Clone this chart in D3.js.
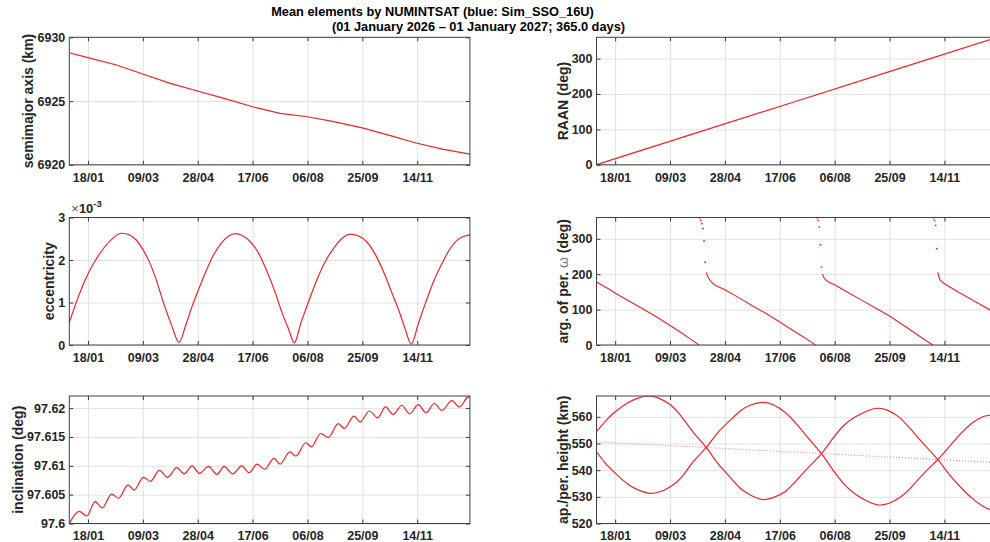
<!DOCTYPE html>
<html>
<head>
<meta charset="utf-8">
<script src="https://cdn.jsdelivr.net/npm/d3@7"></script>
<style>
    body { margin: 0; background: #fff; }
    svg { display: block; }
    text { font-family: "Liberation Sans", Arial, Helvetica, sans-serif; }
</style>
</head>
<body>
<div class="my_div"></div>
<script>
// ---- data (day = days since 01 Jan 2026) ----

// x tick positions (every 50 days from 18/01)
var xTickDays = [17, 67, 117, 167, 217, 267, 317];

// semimajor axis (km)
var smaDays = [0, 16, 43, 67, 92, 116, 141, 167, 192, 217, 241, 267, 291, 315, 341, 365];
var smaVals = [6928.79, 6928.43, 6927.83, 6927.12, 6926.39, 6925.81, 6925.21, 6924.55,
               6924.03, 6923.77, 6923.38, 6922.90, 6922.33, 6921.73, 6921.21, 6920.84];

// RAAN (deg)
var raanDays = [0, 91, 182, 274, 365];
var raanVals = [0.3, 90, 179.5, 270.2, 359.8];

// eccentricity (x 1e-3)
var eccDays = [0, 8, 16, 24, 32, 40, 47, 54, 61, 67, 73, 79, 86, 93, 100, 106, 112, 118, 124,
               131, 138, 145, 151, 158, 165, 172, 180, 187, 194, 200, 205, 211, 218, 226, 234,
               241, 248, 256, 263, 271, 279, 287, 294, 301, 306, 311.5, 318, 325, 332, 340, 347,
               354, 361, 365];
var eccVals = [0.53, 1.12, 1.62, 2.0, 2.3, 2.52, 2.63, 2.6, 2.47, 2.25, 1.95, 1.55, 0.98, 0.48,
               0.06, 0.46, 0.92, 1.32, 1.7, 2.1, 2.38, 2.56, 2.62, 2.57, 2.43, 2.18, 1.74, 1.28,
               0.75, 0.36, 0.05, 0.52, 1.02, 1.56, 2.0, 2.28, 2.5, 2.61, 2.57, 2.43, 2.12, 1.68,
               1.22, 0.76, 0.38, 0.02, 0.5, 1.02, 1.5, 1.94, 2.27, 2.48, 2.57, 2.59];

// argument of perigee (deg): dense descending tracks and the sparse points at the wraps
var omegaTracks = [
    [[0, 178], [10, 160], [20, 141], [32, 120], [44, 99], [56, 77], [67, 55], [78, 33], [86, 16], [93.5, 0]],
    [[100, 205], [101, 196], [102, 190], [104, 180], [107, 171], [110, 166], [117, 156], [130, 133],
     [142, 111], [155, 88], [167, 65], [178, 43], [190, 20], [199.4, 0]],
    [[206, 201], [207, 191], [209, 183], [212, 177], [217, 170], [230, 147], [242, 126], [255, 103],
     [267, 82], [279, 57], [290, 34], [299, 15], [306.4, 0]],
    [[311, 205], [312, 192], [313, 184], [315, 178], [317, 173], [330, 149], [345, 123], [359, 98], [365, 88]]
];
var omegaDots = [[94, 359], [95, 352], [96, 343], [97, 329], [98, 294], [99, 234],
                 [201, 359], [202, 352], [203, 333], [204, 283], [205, 220],
                 [307, 359], [308, 352], [309, 338], [310, 272]];

// inclination (deg)
var incDays = [0, 9, 16, 23.5, 30, 38.5, 45, 53.5, 59, 67.5, 74, 82, 89.5, 98, 104.5, 112, 118.5,
               127, 134.5, 141, 149, 157, 164, 171, 178, 186.5, 192, 201, 206.5, 215.5, 220.5, 229,
               236, 245, 250.5, 259.5, 265, 273.5, 281, 288, 295, 303, 310, 318, 325, 332.5, 339.5,
               348.5, 355.5, 363, 365];
var incVals = [97.6000, 97.6021, 97.6013, 97.6038, 97.6027, 97.6051, 97.6044, 97.6067, 97.6058,
               97.6080, 97.6073, 97.6092, 97.6080, 97.6097, 97.6086, 97.6100, 97.6087, 97.6099,
               97.6085, 97.6099, 97.6086, 97.6100, 97.6088, 97.6103, 97.6094, 97.6113, 97.6103,
               97.6124, 97.6117, 97.6140, 97.6133, 97.6156, 97.6149, 97.6173, 97.6165, 97.6186,
               97.6176, 97.6195, 97.6183, 97.6202, 97.6189, 97.6205, 97.6190, 97.6206, 97.6192,
               97.6208, 97.6196, 97.6213, 97.6202, 97.6219, 97.6220];

// apogee / perigee height (km): two crossing branches and the mean height
var hgtDays = [0, 8, 17, 29, 38, 47, 56, 67, 78, 88, 100, 110, 120, 131, 141, 151, 161, 172, 183,
               194, 205, 215, 226, 236, 246, 256, 266, 277, 288, 299, 311, 321, 332, 342, 352, 359, 365];
var hgtA = [554.4, 558.3, 561.9, 565.4, 567.0, 567.8, 567.1, 564.6, 559.8, 554.3, 548.5, 542.8,
            538.1, 533.2, 530.5, 529.0, 529.7, 532.0, 536.5, 541.4, 546.2, 551.7, 557.0, 560.0,
            562.1, 563.2, 562.3, 559.4, 554.5, 549.4, 544.0, 538.6, 533.5, 529.5, 526.5, 525.2, 524.9];
var hgtB = [546.9, 542.6, 538.9, 534.6, 532.6, 531.4, 531.7, 533.7, 537.6, 543.1, 548.5, 553.8,
            558.0, 562.2, 564.5, 565.4, 564.5, 561.6, 557.0, 551.5, 546.2, 540.3, 534.6, 531.0,
            528.5, 527.0, 527.5, 529.9, 534.1, 539.1, 544.0, 548.6, 553.8, 557.6, 560.0, 560.6, 560.7];
var meanDays = [0, 100, 205, 311, 365];
var meanVals = [550.6, 548.5, 546.2, 544.0, 542.8];

// ---- layout ----
var W = 990, H = 542;
var colX = [69.3, 596.5],
    rowY = [37.3, 217.5, 396],
    pw = 400.6,
    ph = 127.5;
var red = "#e8252b";

var epoch = Date.UTC(2026, 0, 1);
function dayToDate(d) { return new Date(epoch + d * 864e5); }

var svg = d3.select(".my_div")
    .append("svg")
    .attr("width", W)
    .attr("height", H);

var clipId = 0;

// one MATLAB-style axes box with grid, inside ticks on all four sides
function panel(col, row, yDomain, yTicks, yFmt, label) {
    var xScale = d3.scaleUtc()
        .domain([dayToDate(0), dayToDate(365)])
        .range([0, pw]);
    var yScale = d3.scaleLinear()
        .domain(yDomain)
        .range([ph, 0]);
    var xTicks = xTickDays.map(dayToDate);

    var g = svg.append("g")
        .attr("transform", "translate(" + colX[col] + "," + rowY[row] + ")");

    // grid
    g.append("g")
        .call(d3.axisBottom(xScale).tickValues(xTicks).tickSize(-ph).tickFormat(""))
        .attr("transform", "translate(0," + ph + ")")
        .call(s => s.select(".domain").remove())
        .selectAll("line").attr("stroke", "#e2e2e2");
    g.append("g")
        .call(d3.axisLeft(yScale).tickValues(yTicks).tickSize(-pw).tickFormat(""))
        .call(s => s.select(".domain").remove())
        .selectAll("line").attr("stroke", "#e2e2e2");

    // data area
    clipId++;
    g.append("clipPath").attr("id", "clip" + clipId)
        .append("rect").attr("width", pw).attr("height", ph + 0.5).attr("y", -0.5);
    var plot = g.append("g").attr("clip-path", "url(#clip" + clipId + ")");

    // axes
    g.append("g")
        .attr("transform", "translate(0," + ph + ")")
        .call(d3.axisBottom(xScale).tickValues(xTicks).tickFormat(d3.utcFormat("%d/%m"))
            .tickSizeInner(-4).tickSizeOuter(0).tickPadding(8));
    g.append("g")
        .call(d3.axisTop(xScale).tickValues(xTicks).tickFormat("").tickSizeInner(-4).tickSizeOuter(0));
    var yAx = g.append("g")
        .call(d3.axisLeft(yScale).tickValues(yTicks).tickFormat(yFmt)
            .tickSizeInner(-4).tickSizeOuter(0).tickPadding(4));
    g.append("g")
        .attr("transform", "translate(" + pw + ",0)")
        .call(d3.axisRight(yScale).tickValues(yTicks).tickFormat("").tickSizeInner(-4).tickSizeOuter(0));

    g.selectAll(".domain").remove();
    g.selectAll(".tick line").filter(function () { return d3.select(this).attr("stroke") !== "#e2e2e2"; })
        .attr("stroke", "#3a3a3a");
    g.selectAll(".tick text")
        .attr("fill", "#262626")
        .attr("font-size", "12.5px")
        .attr("font-weight", "bold")
        .attr("font-family", null);

    g.append("rect")
        .attr("width", pw)
        .attr("height", ph)
        .attr("fill", "none")
        .attr("stroke", "#404040")
        .attr("stroke-width", 1);

    // y label placed left of the widest tick label
    var minX = d3.min(yAx.selectAll("text").nodes(), n => n.getBBox().x);
    var lab = g.append("text")
        .attr("transform", "translate(" + (minX - 9) + "," + (ph / 2) + ") rotate(-90)")
        .attr("dy", "0.35em")
        .attr("text-anchor", "middle")
        .attr("font-size", "14px")
        .attr("font-weight", "bold")
        .attr("fill", "#262626");
    label(lab);

    return { g: g, plot: plot, x: d => xScale(dayToDate(d)), y: yScale };
}

function plain(t) { return sel => sel.text(t); }

function drawLine(p, days, vals, curve) {
    var pts = days.map((d, i) => [d, vals[i]]);
    p.plot.append("path")
        .datum(pts)
        .attr("d", d3.line().x(d => p.x(d[0])).y(d => p.y(d[1])).curve(curve || d3.curveMonotoneX))
        .attr("fill", "none")
        .attr("stroke", red)
        .attr("stroke-width", 1.2);
}

// title
svg.append("text")
    .attr("x", 432.5).attr("y", 16)
    .attr("text-anchor", "middle")
    .attr("font-size", "12.8px").attr("font-weight", "bold").attr("fill", "#000")
    .text("Mean elements by NUMINTSAT (blue: Sim_SSO_16U)");
svg.append("text")
    .attr("x", 478.5).attr("y", 31)
    .attr("text-anchor", "middle")
    .attr("font-size", "12.8px").attr("font-weight", "bold").attr("fill", "#000")
    .text("(01 January 2026 \u2013 01 January 2027; 365.0 days)");

// semimajor axis
var p1 = panel(0, 0, [6920, 6930], [6920, 6925, 6930], d3.format("d"), plain("semimajor axis (km)"));
drawLine(p1, smaDays, smaVals, d3.curveLinear);

// RAAN
var p2 = panel(1, 0, [0, 360], [0, 100, 200, 300], d3.format("d"), plain("RAAN (deg)"));
drawLine(p2, raanDays, raanVals, d3.curveLinear);

// eccentricity
var p3 = panel(0, 1, [0, 3], [0, 1, 2, 3], d3.format("d"), plain("eccentricity"));
drawLine(p3, eccDays, eccVals);
var ex = p3.g.append("text")
    .attr("x", 2).attr("y", -5)
    .attr("fill", "#262626")
    .attr("font-size", "13px");
ex.append("tspan").attr("fill", "#555").text("\u00d7");
ex.append("tspan").attr("font-weight", "bold").text("10");
ex.append("tspan").attr("font-weight", "bold").attr("font-size", "9.5px").attr("dy", -6).text("-3");

// argument of perigee
var p4 = panel(1, 1, [0, 360], [0, 100, 200, 300], d3.format("d"), function (sel) {
    sel.append("tspan").text("arg. of per. ");
    sel.append("tspan").attr("font-weight", "normal").attr("fill", "#777").text("\u03c9");
    sel.append("tspan").text(" (deg)");
});
omegaTracks.forEach(function (tr) {
    p4.plot.append("path")
        .datum(tr)
        .attr("d", d3.line().x(d => p4.x(d[0])).y(d => p4.y(d[1])))
        .attr("fill", "none")
        .attr("stroke", red)
        .attr("stroke-width", 1.1);
});
p4.plot.selectAll("circle")
    .data(omegaDots)
    .enter()
    .append("circle")
    .attr("cx", d => p4.x(d[0]))
    .attr("cy", d => p4.y(d[1]))
    .attr("r", 0.9)
    .attr("fill", red);

// inclination
var p5 = panel(0, 2, [97.6, 97.6221], [97.6, 97.605, 97.61, 97.615, 97.62], d3.format(""), plain("inclination (deg)"));
drawLine(p5, incDays, incVals);

// apogee / perigee height
var p6 = panel(1, 2, [520, 567.8], [520, 530, 540, 550, 560], d3.format("d"), plain("ap./per. height (km)"));
drawLine(p6, hgtDays, hgtA, d3.curveNatural);
drawLine(p6, hgtDays, hgtB, d3.curveNatural);
p6.plot.append("path")
    .datum(meanDays.map((d, i) => [d, meanVals[i]]))
    .attr("d", d3.line().x(d => p6.x(d[0])).y(d => p6.y(d[1])))
    .attr("fill", "none")
    .attr("stroke", "#ee6a6e")
    .attr("stroke-width", 0.9)
    .attr("stroke-dasharray", "1,2");
</script>
</body>
</html>
